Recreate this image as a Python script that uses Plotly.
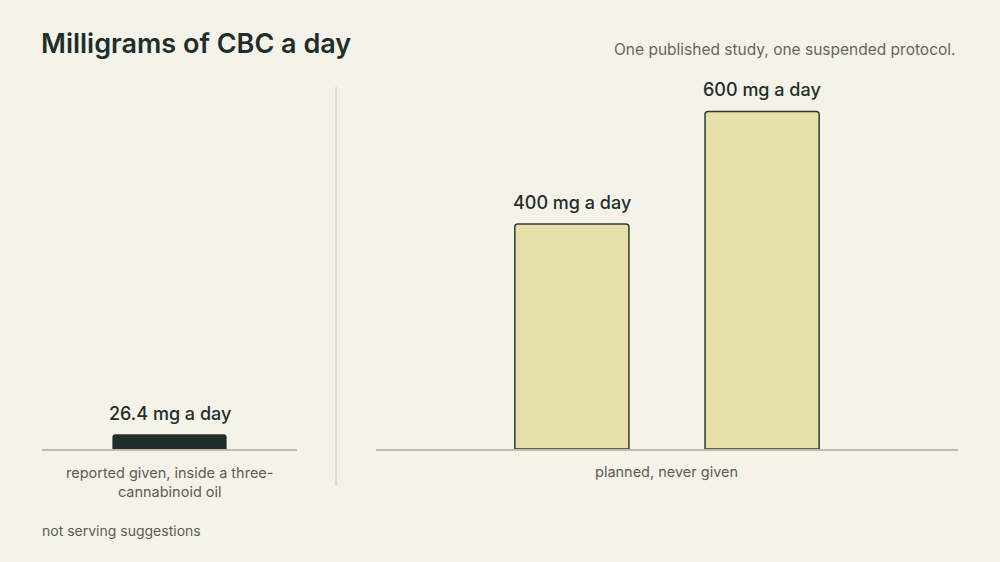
import plotly.graph_objects as go

# données
cat_gauche = ["reported given, inside a three-<br>cannabinoid oil"]
val_gauche = [26.4]
cat_droite = ["planned A", "planned B"]
val_droite = [400, 600]
label_droite = "planned, never given"

titre = "Milligrams of CBC a day"
sous_titre = "One published study, one suspended protocol."
note = "not serving suggestions"

fond = "#f5f3e9"
sombre = "#1f2e2b"
pale = "#e6e0aa"
gris = "#5c5c52"
police = "Inter"

fig = go.Figure()

# panneau gauche
fig.add_trace(go.Bar(
    x=[0], y=val_gauche,
    width=0.6,
    marker=dict(color=sombre, line=dict(width=0), cornerradius=3),
    xaxis="x", yaxis="y",
    hoverinfo="skip",
))

# panneau droit
x_droite = list(range(len(cat_droite)))
fig.add_trace(go.Bar(
    x=x_droite, y=val_droite,
    width=0.6,
    marker=dict(color=pale, line=dict(width=1.5, color="#2f3b33"), cornerradius=3),
    xaxis="x2", yaxis="y2",
    hoverinfo="skip",
))

# étiquettes de valeur au-dessus des barres
etiquettes = []
for xv, v in zip([0], val_gauche):
    etiquettes.append(dict(text=f"{v:g} mg a day", x=xv, y=v, xref="x", yref="y",
                           yanchor="middle", yshift=21, showarrow=False,
                           font=dict(family=police, size=18, color=sombre, weight=500)))
for xv, v in zip(x_droite, val_droite):
    etiquettes.append(dict(text=f"{v:g} mg a day", x=xv, y=v, xref="x2", yref="y2",
                           yanchor="middle", yshift=22, showarrow=False,
                           font=dict(family=police, size=18, color=sombre, weight=500)))

axe_x = dict(showgrid=False, zeroline=False, showticklabels=False, ticks="",
             showline=True, linecolor="#bdbcae", linewidth=2)
axe_y = dict(range=[0, 659.6], showgrid=False, zeroline=False, showticklabels=False,
             showline=False)

fig.update_layout(
    width=1000, height=562,
    paper_bgcolor=fond, plot_bgcolor=fond,
    margin=dict(l=42, r=42, t=78, b=113),
    showlegend=False,
    font=dict(family=police, color=sombre),
    xaxis=dict(domain=[0, 0.2784], range=[-0.67, 0.67], **axe_x),
    yaxis=dict(anchor="x", **axe_y),
    xaxis2=dict(domain=[0.3646, 1.0], range=[-1.03, 2.03], anchor="y2", **axe_x),
    yaxis2=dict(anchor="x2", **axe_y),
    shapes=[
        dict(type="line", xref="paper", yref="paper",
             x0=0.321, x1=0.321, y0=0.9757, y1=-0.0997,
             line=dict(color="#c8c7ba", width=1)),
    ],
    annotations=etiquettes + [
        dict(text=titre, xref="paper", yref="paper", x=-0.003, y=1.0,
             xanchor="left", yanchor="bottom", yshift=16, showarrow=False,
             font=dict(family=police, size=27, color=sombre, weight=600)),
        dict(text=sous_titre, xref="paper", yref="paper", x=1.0, y=1.0,
             xanchor="right", yanchor="bottom", yshift=17, showarrow=False,
             font=dict(family=police, size=15.5, color="#66665c")),
        dict(text=cat_gauche[0], xref="x domain", yref="y domain", x=0.5, y=0,
             xanchor="center", yanchor="top", yshift=-13, showarrow=False,
             font=dict(family=police, size=14.5, color=gris)),
        dict(text=label_droite, xref="x2 domain", yref="y2 domain", x=0.5, y=0,
             xanchor="center", yanchor="top", yshift=-12, showarrow=False,
             font=dict(family=police, size=14.5, color=gris)),
        dict(text=note, xref="paper", yref="paper", x=-0.002, y=0,
             xanchor="left", yanchor="middle", yshift=-81, showarrow=False,
             font=dict(family=police, size=14, color=gris)),
    ],
)

fig.write_html("out.html", config={"displayModeBar": False},
               post_script="document.body.style.margin='0';")
